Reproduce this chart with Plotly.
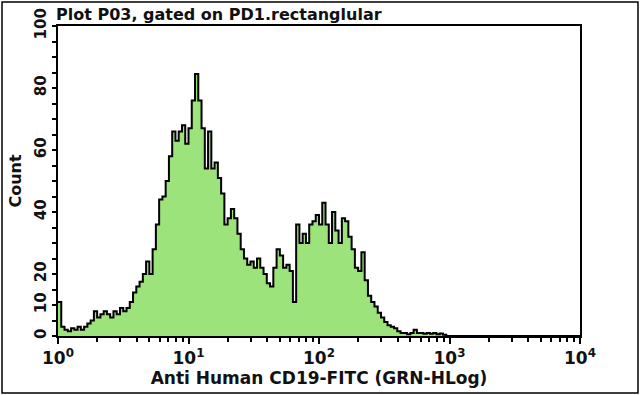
import numpy as np
import plotly.graph_objects as go

# Histogram counts per channel (160 log-spaced channels over 10^0 .. 10^4)
counts = [
    11, 3, 2, 1.5, 2.5, 2, 3, 2, 3, 4,
    5, 8, 6, 7, 8, 7, 6, 8, 7, 9,
    8, 9, 11, 14, 16, 17.5, 20, 24, 20, 28,
    36, 44, 45, 50, 58, 66, 63, 66, 68, 62,
    67, 76, 84.5, 76, 67, 54, 66, 54, 56, 51,
    46, 36, 38, 41, 38, 33, 28, 25, 23, 24,
    22, 25, 22, 20, 17, 16, 22, 28, 26, 22,
    23, 21, 11, 36, 30, 33, 30, 36, 37, 39,
    36, 43, 36, 30, 40, 34, 30, 38, 37, 32,
    28, 22, 21, 27, 18, 13, 11, 9.5, 7.5, 6,
    4.5, 3.5, 3, 2.5, 1.5, 1, 1, 0.6, 1, 2,
    1, 1, 0.7, 1, 0.7, 1, 0.6, 0.8, 0.4, 0,
] + [0] * 40

x_tick_vals = [1, 10, 100, 1000, 10000]
x_tick_text = ["10<sup>0</sup>", "10<sup>1</sup>", "10<sup>2</sup>", "10<sup>3</sup>", "10<sup>4</sup>"]
y_tick_vals = [0, 10, 20, 40, 60, 80, 100]
y_tick_text = ["0", "10", "20", "40", "60", "80", "100"]

title_text = "Plot P03, gated on PD1.rectanglular"
x_title = "Anti Human CD19-FITC (GRN-HLog)"
y_title = "Count"

n = len(counts)
edges = np.logspace(0, 4, n + 1)
xs = list(edges)
ys = list(counts) + [counts[-1]]

minor_x = [m * 10 ** d for d in range(4) for m in range(2, 10)]

fig = go.Figure()
fig.add_trace(go.Scatter(
    x=xs, y=ys, mode="lines", line_shape="hv",
    line=dict(color="black", width=2),
    fill="tozeroy", fillcolor="#9de37c",
    hoverinfo="skip", showlegend=False,
))

font_family = "DejaVu Sans"
fig.update_layout(
    width=640, height=395,
    margin=dict(l=58, r=60, t=26, b=59, autoexpand=False),
    paper_bgcolor="white", plot_bgcolor="white",
    font=dict(family=font_family, color="#111", size=14),
    showlegend=False,
)
fig.update_xaxes(
    type="log", range=[0, 4], automargin=False,
    tickmode="array", tickvals=x_tick_vals, ticktext=x_tick_text,
    tickfont=dict(size=17, weight="bold"),
    ticks="outside", ticklen=6, tickwidth=1.5, tickcolor="black",
    minor=dict(tickmode="array", tickvals=minor_x, ticks="outside", ticklen=4, tickwidth=1.5, tickcolor="black", showgrid=False),
    showline=True, linecolor="black", linewidth=2, mirror=True,
    showgrid=False, zeroline=False,
    title=dict(text=x_title, font=dict(size=17, weight="bold"), standoff=5),
)
fig.update_yaxes(
    range=[0, 100], automargin=False,
    tickmode="array", tickvals=y_tick_vals, ticktext=y_tick_text,
    tickangle=-90, tickfont=dict(size=15, weight="bold"),
    ticks="outside", ticklen=4, tickwidth=1.5, tickcolor="black",
    minor=dict(tickmode="linear", tick0=0, dtick=5, ticks="outside", ticklen=4, tickwidth=1.5, tickcolor="black", showgrid=False),
    showline=True, linecolor="black", linewidth=2, mirror=True,
    showgrid=False, zeroline=False,
    title=dict(text=y_title, font=dict(size=16, weight="bold"), standoff=6),
)

# Title above the plot
fig.add_annotation(
    text=title_text, xref="paper", yref="paper", x=0, y=1,
    xanchor="left", yanchor="bottom", showarrow=False,
    font=dict(size=16, family=font_family, weight="bold"), yshift=0, xshift=-4,
)

# Outer frame
fig.add_shape(type="rect", xref="paper", yref="paper",
              x0=-56 / 522, x1=1 + 58 / 522, y0=-57 / 310, y1=1 + 24 / 310,
              line=dict(color="black", width=1.5))

fig.write_html(
    "out.html",
    config={"displayModeBar": False},
    post_script="document.body.style.margin='0';document.body.style.overflow='hidden';",
)
